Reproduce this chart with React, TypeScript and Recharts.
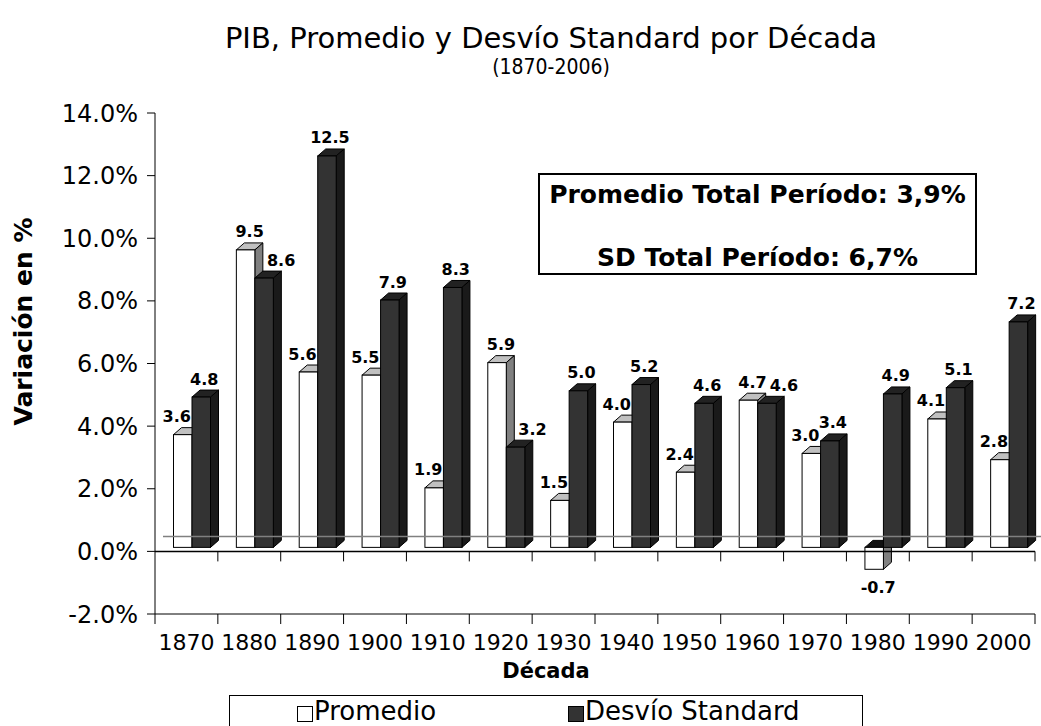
import React from 'react';
import { BarChart, Bar, XAxis, YAxis, ReferenceLine, LabelList } from 'recharts';

const decades = ['1870', '1880', '1890', '1900', '1910', '1920', '1930', '1940', '1950', '1960', '1970', '1980', '1990', '2000'];
const promedio = [3.6, 9.5, 5.6, 5.5, 1.9, 5.9, 1.5, 4.0, 2.4, 4.7, 3.0, -0.7, 4.1, 2.8];
const desvio = [4.8, 8.6, 12.5, 7.9, 8.3, 3.2, 5.0, 5.2, 4.6, 4.6, 3.4, 4.9, 5.1, 7.2];
const yTicks = [-2, 0, 2, 4, 6, 8, 10, 12, 14];
const boundaries = decades.map((_, i) => i).concat([decades.length]);

const data = decades.map((d, i) => ({ decade: d, promedio: promedio[i], desvio: desvio[i], pos: i + 0.5 }));

const FONT = '"DejaVu Sans", Verdana, sans-serif';
const DX = 8;
const DY = 7;
const SHIFT_X = 5.5;
const LIFT = 4;

const makeBox = (front: string, top: string, side: string, negTop: string, key: 'promedio' | 'desvio') => (props: any) => {
  const { x, y, width, height, payload } = props;
  if (x == null || y == null) return null;
  const v = payload ? payload[key] : 1;
  const yy = Math.min(y, y + height);
  const h = Math.abs(height);
  const x0 = x + SHIFT_X;
  const y0 = yy - LIFT;
  const x1 = x0 + width;
  const y1 = y0 + h;
  return (
    <g>
      <polygon
        points={`${x0},${y0} ${x0 + DX},${y0 - DY} ${x1 + DX},${y0 - DY} ${x1},${y0}`}
        fill={v < 0 ? negTop : top}
        stroke="#000"
        strokeWidth={1}
      />
      <polygon
        points={`${x1},${y0} ${x1 + DX},${y0 - DY} ${x1 + DX},${y1 - DY} ${x1},${y1}`}
        fill={side}
        stroke="#000"
        strokeWidth={1}
      />
      <rect x={x0} y={y0} width={width} height={h} fill={front} stroke="#000" strokeWidth={1} />
    </g>
  );
};

const PromBox = makeBox('#ffffff', '#c0c0c0', '#808080', '#111111', 'promedio');
const SdBox = makeBox('#333333', '#222222', '#1a1a1a', '#111111', 'desvio');

const makeLabel = (key: 'promedio' | 'desvio') => (p: any) => {
  const vb = p.viewBox || p;
  const { x, y, width, height } = vb;
  const idx = p.index;
  if (x == null || idx == null) return null;
  const pv = promedio[idx];
  const sv = desvio[idx];
  const v = key === 'promedio' ? pv : sv;
  const yy = Math.min(y, y + height);
  const h = Math.abs(height);
  const cx0 = x + SHIFT_X + width / 2;
  let dx: number;
  if (key === 'promedio') dx = pv >= sv ? 4 : -6;
  else dx = sv >= pv ? 3 : 17;
  let cy: number;
  if (v < 0) {
    dx = 4;
    cy = yy - LIFT + h + 18;
  } else {
    cy = yy - LIFT - 18;
  }
  return (
    <text
      x={cx0 + dx}
      y={cy}
      textAnchor="middle"
      dominantBaseline="central"
      fontFamily={FONT}
      fontWeight="bold"
      fontSize={16}
      fill="#000"
    >
      {v.toFixed(1)}
    </text>
  );
};

export default function App() {
  return (
    <div style={{ position: 'absolute', left: 0, top: 0, width: 1041, height: 726, background: '#fff', overflow: 'hidden', fontFamily: FONT }}>
      <div style={{ position: 'absolute', left: 0, width: 1102, top: 23, textAlign: 'center', fontSize: 29, color: '#000', whiteSpace: 'nowrap', lineHeight: '30px' }}>
        PIB, Promedio y Desvío Standard por Década
      </div>
      <div style={{ position: 'absolute', left: 0, width: 1102, top: 57, textAlign: 'center', fontSize: 21, color: '#000', fontFamily: '"DejaVu Sans Condensed", "DejaVu Sans", sans-serif', lineHeight: '21px' }}>
        (1870-2006)
      </div>
      <BarChart
        width={1041}
        height={726}
        data={data}
        margin={{ top: 113, right: 6, left: 0, bottom: 82 }}
        barGap={0}
        barSize={18.5}
      >
        <XAxis
          dataKey="decade"
          interval={0}
          tickLine={false}
          axisLine={{ stroke: '#000' }}
          tickSize={10}
          tickMargin={10}
          height={30}
          tick={{ fontSize: 22, fill: '#000', fontFamily: FONT }}
        />
        <XAxis xAxisId="num" type="number" dataKey="pos" domain={[0, decades.length]} allowDataOverflow hide />
        <YAxis
          domain={[-2, 14]}
          ticks={yTicks}
          interval={0}
          allowDataOverflow
          width={155}
          tickSize={8}
          tickMargin={9}
          tickFormatter={(v: number) => `${v.toFixed(1)}%`}
          axisLine={{ stroke: '#000' }}
          tickLine={{ stroke: '#000' }}
          tick={{ fontSize: 24, fill: '#000', fontFamily: FONT }}
        />
        <ReferenceLine
          y={0}
          ifOverflow="visible"
          shape={(p: any) => (
            <line x1={p.x1 + DX} y1={p.y1 - 15} x2={p.x2 + DX} y2={p.y2 - 15} stroke="#808080" strokeWidth={1.5} />
          )}
        />
        <ReferenceLine y={0} stroke="#000" strokeWidth={1.5} ifOverflow="visible" />
        {boundaries.map((b) => (
          <ReferenceLine
            key={`bt${b}`}
            xAxisId="num"
            segment={[{ x: b, y: -2 }, { x: b, y: -2.32 }]}
            stroke="#000"
            ifOverflow="visible"
          />
        ))}
        {boundaries.slice(1).map((b) => (
          <ReferenceLine
            key={`zt${b}`}
            xAxisId="num"
            segment={[{ x: b, y: 0 }, { x: b, y: -0.32 }]}
            stroke="#000"
            ifOverflow="visible"
          />
        ))}
        <Bar dataKey="promedio" fill="#ffffff" shape={PromBox} isAnimationActive={false}>
          <LabelList dataKey="promedio" content={makeLabel('promedio')} />
        </Bar>
        <Bar dataKey="desvio" fill="#333333" shape={SdBox} isAnimationActive={false}>
          <LabelList dataKey="desvio" content={makeLabel('desvio')} />
        </Bar>
      </BarChart>
      <div
        style={{
          position: 'absolute',
          left: 0,
          top: 321,
          width: 46,
          height: 0,
          display: 'flex',
          alignItems: 'center',
          justifyContent: 'center',
        }}
      >
        <div style={{ transform: 'rotate(-90deg)', whiteSpace: 'nowrap', fontWeight: 'bold', fontSize: 25, color: '#000' }}>
          Variación en %
        </div>
      </div>
      <div style={{ position: 'absolute', left: 446, width: 200, top: 657, textAlign: 'center', fontWeight: 'bold', fontSize: 21, color: '#000', lineHeight: '28px' }}>
        Década
      </div>
      <div
        style={{
          position: 'absolute',
          left: 538,
          top: 173,
          width: 435,
          height: 98,
          border: '2px solid #000',
          background: '#fff',
          fontWeight: 'bold',
          fontSize: 25,
          color: '#000',
          textAlign: 'center',
        }}
      >
        <div style={{ position: 'absolute', left: 0, right: 0, top: 5, lineHeight: '30px', whiteSpace: 'nowrap' }}>Promedio Total Período: 3,9%</div>
        <div style={{ position: 'absolute', left: 0, right: 0, top: 68, lineHeight: '30px', whiteSpace: 'nowrap' }}>SD Total Período: 6,7%</div>
      </div>
      <div
        style={{
          position: 'absolute',
          left: 229,
          top: 695,
          width: 632,
          height: 60,
          border: '1px solid #000',
          background: '#fff',
          fontSize: 26,
          color: '#000',
        }}
      >
        <div style={{ position: 'absolute', left: 67, top: 10, width: 14, height: 14, background: '#fff', border: '1px solid #000' }} />
        <div style={{ position: 'absolute', left: 84, top: 0, lineHeight: '30px', whiteSpace: 'nowrap' }}>Promedio</div>
        <div style={{ position: 'absolute', left: 338, top: 10, width: 14, height: 14, background: '#333', border: '1px solid #000' }} />
        <div style={{ position: 'absolute', left: 355, top: 0, lineHeight: '30px', whiteSpace: 'nowrap' }}>Desvío Standard</div>
      </div>
    </div>
  );
}
